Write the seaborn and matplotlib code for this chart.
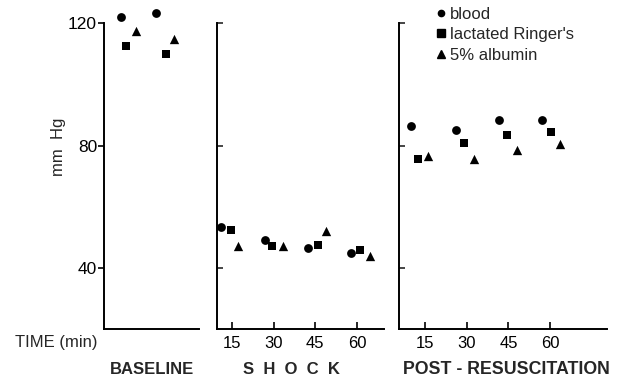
import matplotlib
matplotlib.use("Agg")
import matplotlib.pyplot as plt
import seaborn as sns
import pandas as pd
from matplotlib.lines import Line2D

# ---- data ----
fluids = ["blood", "lactated Ringer's", "5% albumin"]

# baseline: two unlabelled readings (arbitrary horizontal position 0-100)
blood_base_x = [18, 55]
blood_base = [122, 123.5]
lr_base_x = [23, 65]
lr_base = [112.5, 110]
alb_base_x = [34, 74]
alb_base = [117.5, 115]

# shock (minutes)
blood_shock_t = [11, 27, 42.5, 58]
blood_shock = [53.5, 49, 46.5, 45]
lr_shock_t = [14.5, 29.5, 46, 61]
lr_shock = [52.5, 47, 47.5, 46]
alb_shock_t = [17, 33.5, 49, 64.5]
alb_shock = [47, 47, 52, 44]

# post-resuscitation (minutes)
blood_post_t = [10, 26, 41.5, 57]
blood_post = [86.5, 85, 88.5, 88.5]
lr_post_t = [12.5, 29, 44.5, 60.5]
lr_post = [75.5, 81, 83.5, 84.5]
alb_post_t = [16, 32.5, 48, 63.5]
alb_post = [76.5, 75.5, 78.5, 80.5]

time_ticks = [15, 30, 45, 60]
y_ticks = [40, 80, 120]


def frame(xs, ys):
    rows = []
    for f, x, y in zip(fluids, xs, ys):
        for a, b in zip(x, y):
            rows.append({"x": a, "y": b, "fluid": f})
    return pd.DataFrame(rows)


df_base = frame([blood_base_x, lr_base_x, alb_base_x], [blood_base, lr_base, alb_base])
df_shock = frame([blood_shock_t, lr_shock_t, alb_shock_t], [blood_shock, lr_shock, alb_shock])
df_post = frame([blood_post_t, lr_post_t, alb_post_t], [blood_post, lr_post, alb_post])

sns.set_style("ticks")
plt.rcParams["font.family"] = ["Liberation Sans", "DejaVu Sans"]

markers = {"blood": "o", "lactated Ringer's": "s", "5% albumin": "^"}
sizes = {"blood": 40, "lactated Ringer's": 40, "5% albumin": 45}

W, H = 622, 380
fig = plt.figure(figsize=(W / 100, H / 100), dpi=100)

bottom = 51 / H
height = 321 / H
ax1 = fig.add_axes([104 / W, bottom, 95 / W, height])
ax2 = fig.add_axes([216.7 / W, bottom, 167.3 / W, height])
ax3 = fig.add_axes([399 / W, bottom, 208 / W, height])

for ax, d in [(ax1, df_base), (ax2, df_shock), (ax3, df_post)]:
    for f in fluids:
        sub = d[d["fluid"] == f]
        sns.scatterplot(data=sub, x="x", y="y", ax=ax, color="black",
                        marker=markers[f], s=sizes[f], linewidth=0,
                        legend=False, clip_on=False)
    ax.set_ylim(20, 125)
    ax.set_xlabel("")
    ax.set_ylabel("")
    for side in ["top", "right"]:
        ax.spines[side].set_visible(False)
    for side in ["left", "bottom"]:
        ax.spines[side].set_linewidth(1.4)
        ax.spines[side].set_color("black")
    ax.spines["left"].set_bounds(20, 120)
    ax.set_yticks(y_ticks)
    ax.patch.set_alpha(0)

ax1.set_xlim(0, 100)
ax1.set_xticks([])
ax1.tick_params(axis="y", direction="out", length=4, width=1.2, labelsize=12.5, pad=1, colors="black")

ax2.set_xlim(9.5, 69.7)
ax3.set_xlim(5.6, 80.5)
for ax in (ax2, ax3):
    ax.set_xticks(time_ticks)
    ax.set_xticklabels([str(t) for t in time_ticks])
    ax.tick_params(axis="x", direction="in", length=5, width=1.2, labelsize=12, pad=5, colors="black")
    ax.tick_params(axis="y", direction="in", length=4, width=1.2, labelleft=False)

# texts
fig.text(59 / W, 1 - 147 / H, "mm  Hg", rotation=90, ha="center", va="center", fontsize=12)
fig.text(15 / W, 1 - 343 / H, "TIME (min)", ha="left", va="center", fontsize=12)
fig.text(152 / W, 1 - 369 / H, "BASELINE", ha="center", va="center", fontsize=12, fontweight="bold")
fig.text(291 / W, 1 - 369 / H, "S  H  O  C  K", ha="center", va="center", fontsize=12, fontweight="bold")
fig.text(506 / W, 1 - 369 / H, "POST - RESUSCITATION", ha="center", va="center", fontsize=12.8, fontweight="bold")

handles = [Line2D([], [], linestyle="none", marker=markers[f], color="black", markersize=s)
           for f, s in zip(fluids, [4.5, 5.5, 6])]
fig.legend(handles, fluids, loc="upper left", bbox_to_anchor=(435 / W, 1 - 7 / H),
           frameon=False, handletextpad=0.2, labelspacing=0.32, handlelength=0.7,
           fontsize=12, borderpad=0, borderaxespad=0)

fig.savefig("out.png", dpi=100)
